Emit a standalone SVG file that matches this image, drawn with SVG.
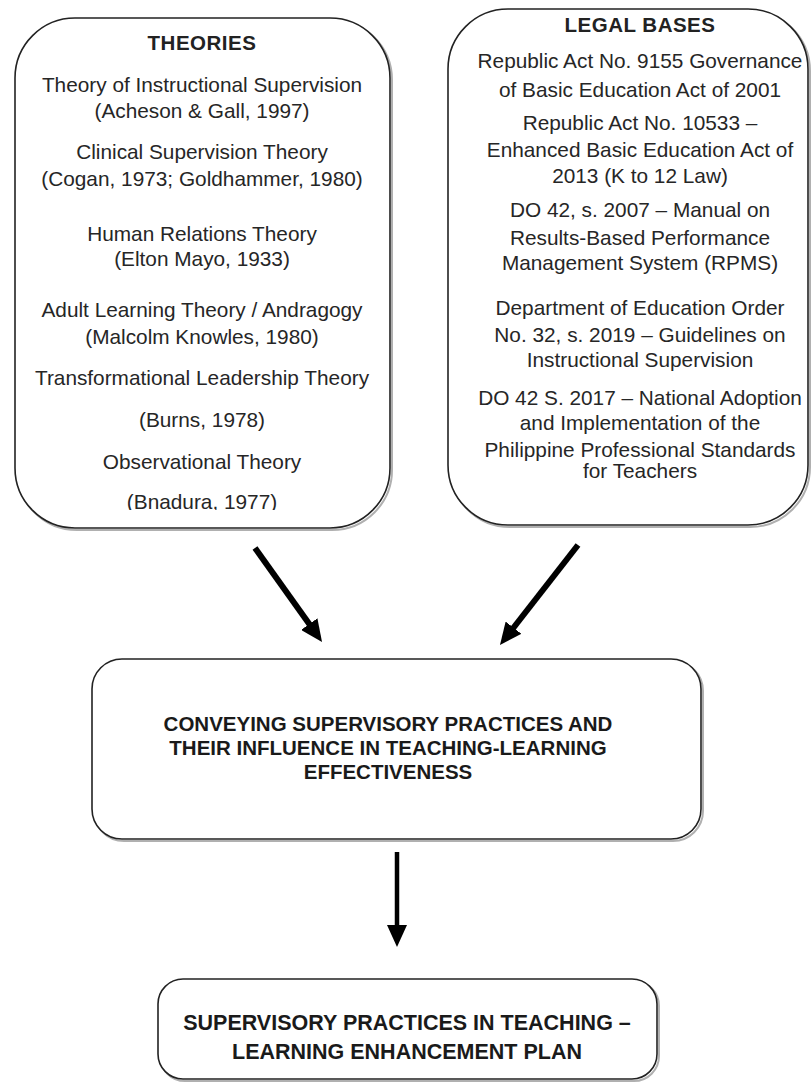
<svg xmlns="http://www.w3.org/2000/svg" width="811" height="1082" viewBox="0 0 811 1082">
  <style>
    .box { fill: #ffffff; stroke: #222222; stroke-width: 1.6; }
    .shadow { fill: none; stroke: #b0b0b0; stroke-width: 2; }
    .t { font-family: "Liberation Sans", Arial, sans-serif; font-size: 20.8px; fill: #262626; text-anchor: middle; }
    .h { font-family: "Liberation Sans", Arial, sans-serif; font-size: 20.5px; font-weight: bold; fill: #222222; text-anchor: middle; letter-spacing: 0.5px; }
    .m { font-family: "Liberation Sans", Arial, sans-serif; font-size: 20.5px; font-weight: bold; fill: #1a1a1a; text-anchor: middle; }
    .b { font-family: "Liberation Sans", Arial, sans-serif; font-size: 21.5px; font-weight: bold; fill: #1a1a1a; text-anchor: middle; }
    .conn { stroke: #000000; fill: none; stroke-linecap: butt; }
  </style>
  <defs>
    <marker id="arrow" markerUnits="userSpaceOnUse" markerWidth="22" markerHeight="20" refX="8" refY="10" orient="auto" viewBox="0 0 22 20">
      <path d="M0,0 L22,10 L0,20 z" fill="#000000"/>
    </marker>
    <clipPath id="clip-last">
      <rect x="15" y="480" width="375" height="30"/>
    </clipPath>
  </defs>

  <g id="theories">
    <rect class="shadow" x="17" y="20" width="375" height="510" rx="60" ry="60"/>
    <rect class="box" x="15" y="18" width="375" height="510" rx="60" ry="60"/>
    <text class="h" x="202" y="50">THEORIES</text>
    <text class="t" x="202" y="92">Theory of Instructional Supervision</text>
    <text class="t" x="202" y="118">(Acheson &amp; Gall, 1997)</text>
    <text class="t" x="202" y="159">Clinical Supervision Theory</text>
    <text class="t" x="202" y="186">(Cogan, 1973; Goldhammer, 1980)</text>
    <text class="t" x="202" y="241">Human Relations Theory</text>
    <text class="t" x="202" y="266">(Elton Mayo, 1933)</text>
    <text class="t" x="202" y="317">Adult Learning Theory / Andragogy</text>
    <text class="t" x="202" y="344">(Malcolm Knowles, 1980)</text>
    <text class="t" x="202" y="385">Transformational Leadership Theory</text>
    <text class="t" x="202" y="427">(Burns, 1978)</text>
    <text class="t" x="202" y="469">Observational Theory</text>
    <text class="t" x="202" y="509" clip-path="url(#clip-last)">(Bnadura, 1977)</text>
  </g>

  <g id="legal-bases">
    <rect class="shadow" x="450" y="11" width="360" height="516" rx="60" ry="60"/>
    <rect class="box" x="448" y="9" width="360" height="516" rx="60" ry="60"/>
    <text class="h" x="640" y="32">LEGAL BASES</text>
    <text class="t" x="640" y="68">Republic Act No. 9155 Governance</text>
    <text class="t" x="640" y="97">of Basic Education Act of 2001</text>
    <text class="t" x="640" y="130">Republic Act No. 10533 –</text>
    <text class="t" x="640" y="157">Enhanced Basic Education Act of</text>
    <text class="t" x="640" y="183">2013 (K to 12 Law)</text>
    <text class="t" x="640" y="217">DO 42, s. 2007 – Manual on</text>
    <text class="t" x="640" y="245">Results-Based Performance</text>
    <text class="t" x="640" y="270">Management System (RPMS)</text>
    <text class="t" x="640" y="315">Department of Education Order</text>
    <text class="t" x="640" y="342">No. 32, s. 2019 – Guidelines on</text>
    <text class="t" x="640" y="367">Instructional Supervision</text>
    <text class="t" x="640" y="405">DO 42 S. 2017 – National Adoption</text>
    <text class="t" x="640" y="430">and Implementation of the</text>
    <text class="t" x="640" y="457">Philippine Professional Standards</text>
    <text class="t" x="640" y="478">for Teachers</text>
  </g>

  <g id="conveying">
    <rect class="shadow" x="94" y="661" width="609" height="180" rx="30" ry="30"/>
    <rect class="box" x="92" y="659" width="609" height="180" rx="30" ry="30"/>
    <text class="m" x="388" y="731">CONVEYING SUPERVISORY PRACTICES AND</text>
    <text class="m" x="388" y="755">THEIR INFLUENCE IN TEACHING-LEARNING</text>
    <text class="m" x="388" y="779">EFFECTIVENESS</text>
  </g>

  <g id="enhancement-plan">
    <rect class="shadow" x="160" y="981" width="499" height="100" rx="25" ry="25"/>
    <rect class="box" x="158" y="979" width="499" height="100" rx="25" ry="25"/>
    <text class="b" x="407" y="1030">SUPERVISORY PRACTICES IN TEACHING –</text>
    <text class="b" x="407" y="1059">LEARNING ENHANCEMENT PLAN</text>
  </g>

  <g id="connectors">
    <line class="conn" x1="255" y1="548" x2="313.9" y2="630.6" stroke-width="6" marker-end="url(#arrow)"/>
    <line class="conn" x1="578" y1="545" x2="508.6" y2="634" stroke-width="6" marker-end="url(#arrow)"/>
    <line class="conn" x1="397" y1="852" x2="397" y2="933" stroke-width="4.5" marker-end="url(#arrow)"/>
  </g>
</svg>
